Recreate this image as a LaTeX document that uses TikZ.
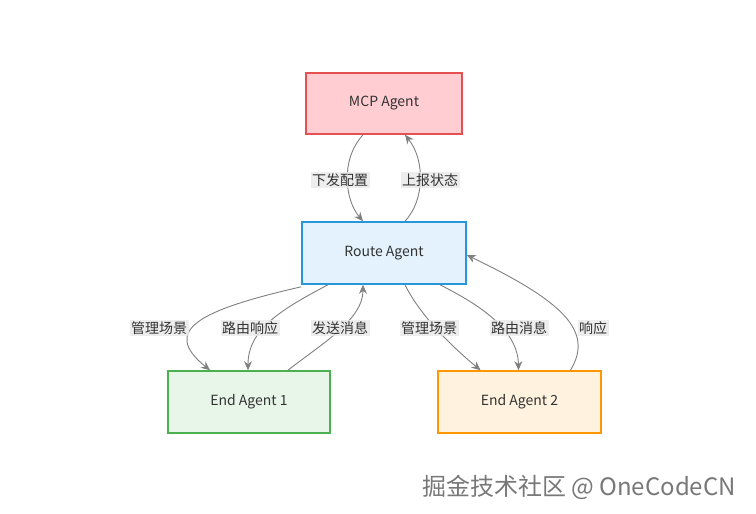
\documentclass[tikz,border=0pt]{standalone}
\usepackage{fontspec}
\setmainfont{Noto Sans CJK SC}
\usetikzlibrary{arrows.meta}
\definecolor{txt}{HTML}{333333}
\definecolor{edge}{HTML}{808080}
\definecolor{lbl}{HTML}{E8E8E8}
\tikzset{
 box/.style={draw, line width=1.6pt, minimum width=160pt, minimum height=60pt, text=txt, font=\fontsize{14}{16}\selectfont},
 conn/.style={draw=edge, line width=0.9pt, -{Stealth[length=9pt,width=8pt]}},
 elbl/.style={fill=lbl, fill opacity=0.8, text opacity=1, text=txt, inner sep=1.5pt, font=\fontsize{14}{16}\selectfont}
}
\begin{document}
\begin{tikzpicture}[x=1pt,y=-1pt]
\useasboundingbox (0,0) rectangle (756,514);
\node[box, draw={rgb,255:red,229;green,80;blue,80}, fill={rgb,255:red,255;green,205;blue,210}, minimum width=156pt, minimum height=61pt] (mcp) at (384,103.5) {MCP Agent};
\node[box, draw={rgb,255:red,40;green,150;blue,220}, fill={rgb,255:red,227;green,242;blue,253}, minimum width=164pt, minimum height=62pt] (route) at (384,253) {Route Agent};
\node[box, draw={rgb,255:red,76;green,175;blue,80}, fill={rgb,255:red,232;green,245;blue,233}, minimum width=162pt, minimum height=62pt] (e1) at (249,402) {End Agent 1};
\node[box, draw={rgb,255:red,255;green,152;blue,0}, fill={rgb,255:red,255;green,243;blue,224}, minimum width=163pt, minimum height=62pt] (e2) at (519.5,402) {End Agent 2};

\draw[conn] ([xshift=-21pt]mcp.south) .. controls (340,160) and (345,200) .. ([xshift=-21pt]route.north);
\node[elbl] at (340,180) {下发配置};
\draw[conn] ([xshift=21pt]route.north) .. controls (425,200) and (425,160) .. ([xshift=21pt]mcp.south);
\node[elbl] at (430,180) {上报状态};

\draw[conn] ([yshift=-2pt]route.south west) .. controls (200,310) and (160,330) .. ([xshift=-39pt]e1.north);
\node[elbl] at (159,328) {管理场景};
\draw[conn] ([xshift=-56pt]route.south) .. controls (280,310) and (248,330) .. ([xshift=-1pt]e1.north);
\node[elbl] at (250,328) {路由响应};
\draw[conn] ([xshift=39pt]e1.north) .. controls (320,345) and (363,320) .. ([xshift=-21pt]route.south);
\node[elbl] at (340,328) {发送消息};

\draw[conn] ([xshift=21pt]route.south) .. controls (420,315) and (450,345) .. ([xshift=-39pt]e2.north);
\node[elbl] at (429,328) {管理场景};
\draw[conn] ([xshift=56pt]route.south) .. controls (480,305) and (518,330) .. ([xshift=-1pt]e2.north);
\node[elbl] at (519,328) {路由消息};
\draw[conn] ([xshift=51pt]e2.north) .. controls (595,330) and (560,300) .. ([yshift=-2pt]route.east);
\node[elbl] at (593,328) {响应};

\node[text=white, font=\fontsize{24}{26}\selectfont] (wm0) at (580,488) {掘金技术社区 @ OneCodeCN};
\node[text={rgb,255:red,120;green,120;blue,120}, font=\fontsize{24}{26}\selectfont] (wm) at (579,487) {掘金技术社区 @ OneCodeCN};
\end{tikzpicture}
\end{document}
